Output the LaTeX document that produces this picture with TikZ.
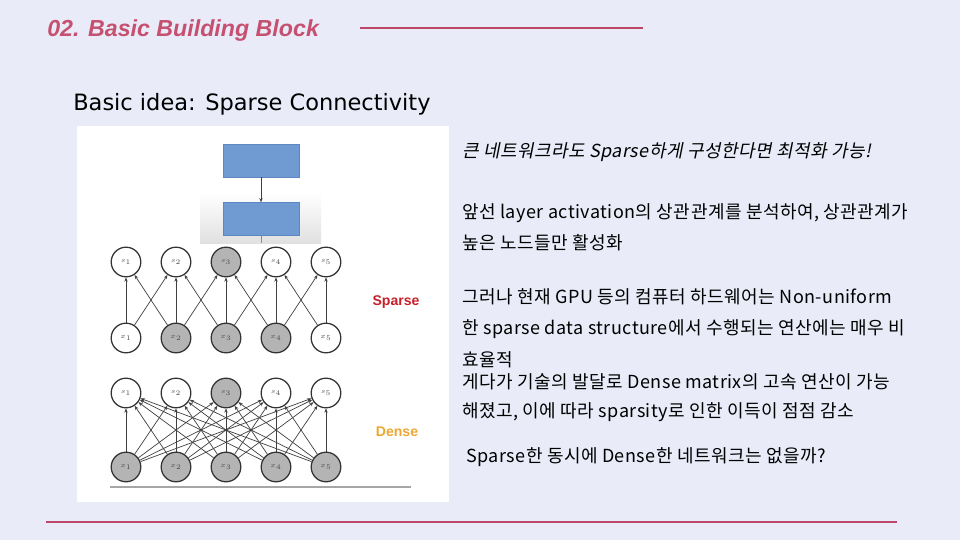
\documentclass[tikz,border=0pt]{standalone}
\usepackage{fontspec}
\setmainfont[LetterSpace=2.5]{Noto Sans CJK KR}
\newfontfamily\kritfont[FakeSlant=0.2,LetterSpace=2.5]{Noto Sans CJK KR}
\newfontfamily\titlefont{Liberation Sans}
\newfontfamily\ideafont{DejaVu Sans}
\usetikzlibrary{arrows.meta,positioning}

\definecolor{slidebg}{RGB}{233,236,248}
\definecolor{titlepink}{RGB}{198,80,112}
\definecolor{rulepink}{RGB}{190,70,105}
\definecolor{blockblue}{RGB}{112,155,210}
\definecolor{blockedge}{RGB}{92,135,192}
\definecolor{sparsered}{RGB}{200,32,42}
\definecolor{denseorange}{RGB}{236,168,50}
\definecolor{unitgray}{RGB}{180,180,180}

\tikzset{
  unit/.style={circle,draw=black!80,line width=0.9pt,minimum size=0.74cm,
    inner sep=0pt,text=black!70,font=\fontsize{5}{6}\selectfont},
  link/.style={-{Stealth[length=3pt,width=2.4pt]},black!75,line width=0.5pt},
  blockbox/.style={rectangle,fill=blockblue,draw=blockedge,line width=0.4pt,
    minimum width=1.9cm,minimum height=0.82cm},
  bodytext/.style={anchor=west,inner sep=0pt,font=\fontsize{12.8}{15}\selectfont},
  tag/.style={font=\titlefont\bfseries\fontsize{10}{12}\selectfont}
}

\begin{document}
\begin{tikzpicture}[x=0.025cm,y=-0.025cm,>=Stealth]
  % slide background and picture panel
  \fill[slidebg] (0,0) rectangle (960,540);
  \useasboundingbox (0,0) rectangle (960,540);
  \fill[white] (77,126) rectangle (449,502);

  % heading
  \node[anchor=west,inner sep=0pt,text=titlepink,
    font=\titlefont\bfseries\itshape\fontsize{16.5}{18}\selectfont]
    (title) at (47,30) {02. Basic Building Block};
  \draw[rulepink,line width=0.8pt] (360,28) -- (643,28);
  \draw[rulepink,line width=0.8pt] (46,522) -- (897,522);
  \node[anchor=west,inner sep=0pt,font=\ideafont\fontsize{16}{18}\selectfont]
    (idea) at (73,104) {Basic idea: Sparse Connectivity};

  % block stack
  \shade[top color=white,bottom color=black!12] (200,193) rectangle (321,243);
  \node[blockbox] (blockA) at (261,160.5) {};
  \node[blockbox] (blockB) at (261,219) {};
  \coordinate (blockout) at (261,243);
  \draw[link] (blockA) -- (blockB);
  \draw[black!45,line width=0.4pt] (blockB) -- (blockout);

  % sparse network
  \foreach \i/\top/\bot in {1/white/white,2/white/unitgray,3/unitgray/unitgray,
                           4/white/unitgray,5/white/white} {
    \node[unit,fill=\top] (sps\i) at ({76+50*\i},262) {$s_{\i}$};
    \node[unit,fill=\bot] (spx\i) at ({76+50*\i},338) {$x_{\i}$};
  }
  \foreach \a/\b in {1/1,1/2,2/1,2/2,2/3,3/2,3/3,3/4,4/3,4/4,4/5,5/4,5/5}
    \draw[link] (spx\a) -- (sps\b);
  \node[tag,text=sparsered] (sparsetag) at (396,302) {Sparse};

  % dense network
  \foreach \i/\top in {1/white,2/white,3/unitgray,4/white,5/white} {
    \node[unit,fill=\top] (dns\i) at ({76+50*\i},393) {$s_{\i}$};
    \node[unit,fill=unitgray] (dnx\i) at ({76+50*\i},467) {$x_{\i}$};
  }
  \foreach \a in {1,...,5}
    \foreach \b in {1,...,5}
      \draw[link] (dnx\a) -- (dns\b);
  \node[tag,text=denseorange] (densetag) at (397,432) {Dense};
  \draw[black!35,line width=1.2pt] (110,487) -- (411,487);

  % notes
  \node[bodytext,font=\kritfont\fontsize{12.8}{15}\selectfont] (note1) at (462,152)
    {큰 네트워크라도 Sparse하게 구성한다면 최적화 가능!};
  \node[bodytext] (note2) at (462,213)
    {앞선 layer activation의 상관관계를 분석하여, 상관관계가};
  \node[bodytext] (note3) at (462,243) {높은 노드들만 활성화};
  \node[bodytext] (note4) at (462,297)
    {그러나 현재 GPU 등의 컴퓨터 하드웨어는 Non-uniform};
  \node[bodytext] (note5) at (462,329)
    {한 sparse data structure에서 수행되는 연산에는 매우 비};
  \node[bodytext] (note6) at (462,360) {효율적};
  \node[bodytext] (note7) at (462,382)
    {게다가 기술의 발달로 Dense matrix의 고속 연산이 가능};
  \node[bodytext] (note8) at (462,412)
    {해졌고, 이에 따라 sparsity로 인한 이득이 점점 감소};
  \node[bodytext] (note9) at (466,457)
    {Sparse한 동시에 Dense한 네트워크는 없을까?};
\end{tikzpicture}
\end{document}
